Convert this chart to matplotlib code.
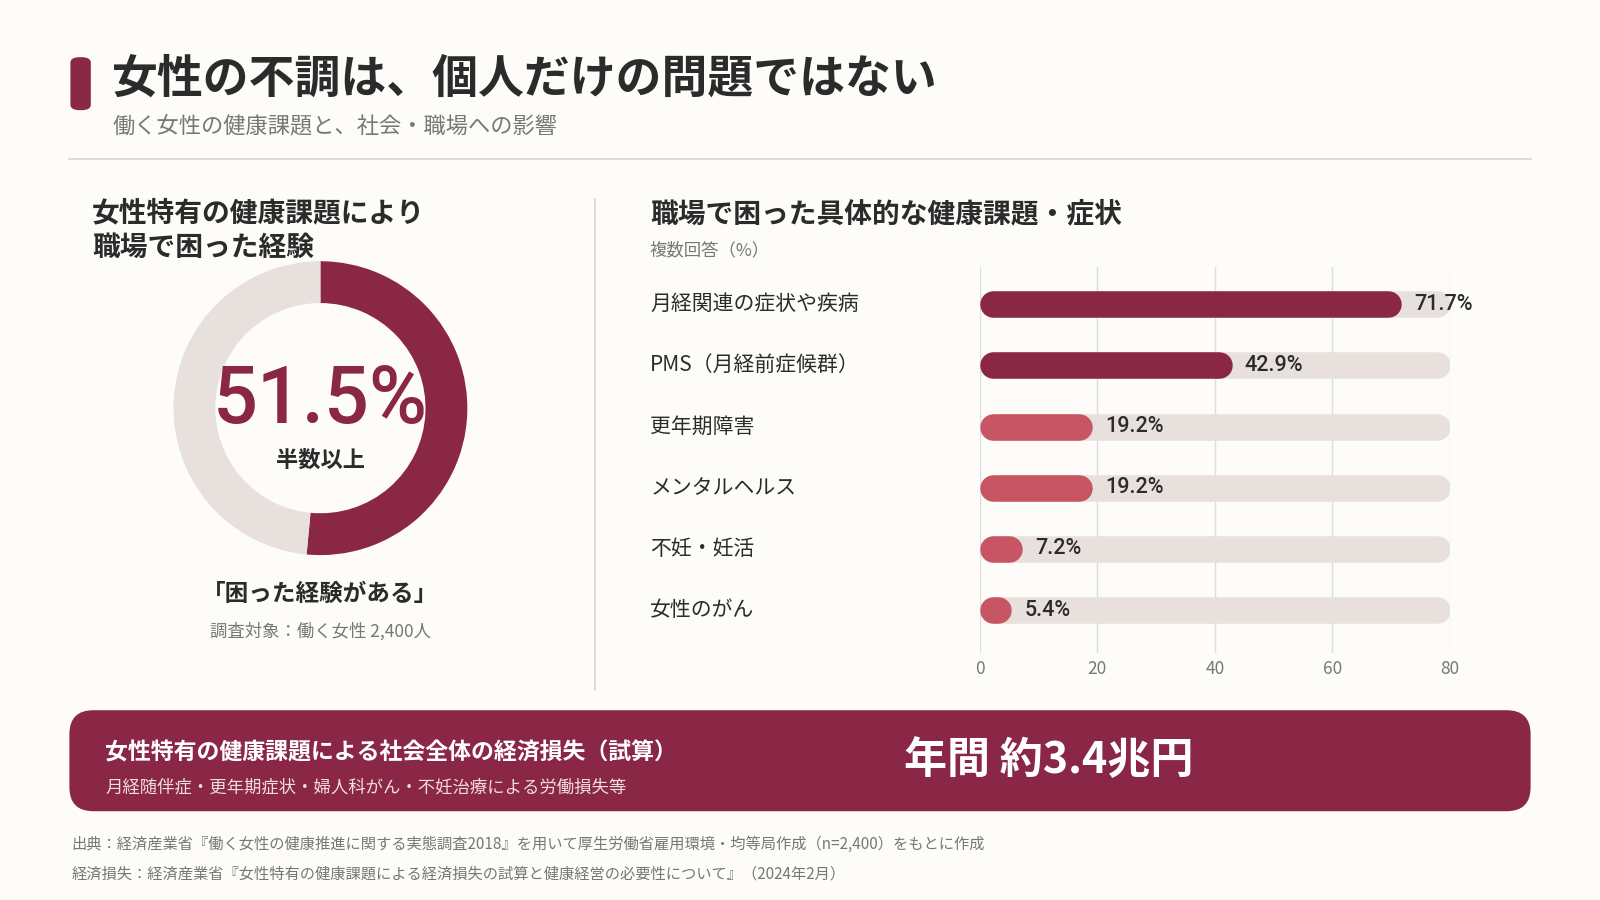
import matplotlib.pyplot as plt
from matplotlib.patches import FancyBboxPatch, Wedge

plt.rcParams['font.family'] = ['Noto Sans CJK JP', 'DejaVu Sans']

W, H = 1568, 882
BG = '#FDFCF8'
DARK = '#8B2746'
LIGHT = '#C85564'
TRACK = '#E8E0DC'
TXT = '#2B2B2B'
GREY = '#777777'

donut_value = 51.5
categories = ['月経関連の症状や疾病', 'PMS（月経前症候群）', '更年期障害', 'メンタルヘルス', '不妊・妊活', '女性のがん']
values = [71.7, 42.9, 19.2, 19.2, 7.2, 5.4]
bar_colors = [DARK, DARK, LIGHT, LIGHT, LIGHT, LIGHT]
xticks = [0, 20, 40, 60, 80]

fig = plt.figure(figsize=(16, 9), dpi=100, facecolor=BG)


def fx(x):
    return x / W


def fy(y):
    return 1 - y / H


def txt(x, y, s, **kw):
    fig.text(fx(x), fy(y), s, **kw)


# header
fig.patches.append(FancyBboxPatch((fx(69), fy(108)), fx(20), fy(56) - fy(108),
                                  boxstyle='round,pad=0,rounding_size=0.006',
                                  transform=fig.transFigure, fc=DARK, ec='none'))
txt(110, 78, '女性の不調は、個人だけの問題ではない', fontsize=33, weight='bold', color=TXT, va='center')
txt(110, 123, '働く女性の健康課題と、社会・職場への影響', fontsize=16, color=GREY, va='center')
fig.add_artist(plt.Line2D([fx(68), fx(1500)], [fy(156), fy(156)], color='#D8D4CE', lw=1.2))
fig.add_artist(plt.Line2D([fx(583), fx(583)], [fy(195), fy(676)], color='#D8D4CE', lw=1.2))

# donut
txt(90, 226, '女性特有の健康課題により\n職場で困った経験', fontsize=20, weight='bold', color=TXT, va='center', linespacing=1.3)
cx, cy, r = 314, 400, 150
axd = fig.add_axes([fx(cx - r), fy(cy + r), fx(2 * r), fy(cy - r) - fy(cy + r)])
axd.set_xlim(-1, 1)
axd.set_ylim(-1, 1)
axd.set_aspect('equal')
axd.axis('off')
ro, ri = 144 / r, 103 / r
ang = 360 * donut_value / 100
axd.add_patch(Wedge((0, 0), ro, 90 - ang, 90, width=ro - ri, fc=DARK, ec='none'))
axd.add_patch(Wedge((0, 0), ro, 90, 90 - ang + 360, width=ro - ri, fc=TRACK, ec='none'))
txt(314, 393, f'{donut_value}%', fontsize=57, color=DARK, ha='center', va='center',
    family=['Roboto', 'DejaVu Sans'], weight='medium')
txt(314, 451, '半数以上', fontsize=16, weight='bold', color=TXT, ha='center', va='center')
txt(314, 582, '「困った経験がある」', fontsize=17, weight='bold', color=TXT, ha='center', va='center')
txt(314, 619, '調査対象：働く女性 2,400人', fontsize=12.5, color=GREY, ha='center', va='center')

# bars
txt(637, 210, '職場で困った具体的な健康課題・症状', fontsize=20, weight='bold', color=TXT, va='center')
txt(637, 245, '複数回答（%）', fontsize=12.5, color=GREY, va='center')
ax = fig.add_axes([fx(960), fy(640), fx(1421) - fx(960), fy(262) - fy(640)])
ax.set_facecolor('none')
ax.set_xlim(0, 80)
n = len(categories)
ax.set_ylim(-0.6 + 378 / 60, -0.6)
for s in ax.spines.values():
    s.set_visible(False)
ax.set_xticks(xticks)
ax.tick_params(length=0, labelsize=12.5, labelcolor=GREY, pad=5)
ax.set_yticks([])
ax.grid(axis='x', color='#DDDDDD', lw=1)
ax.set_axisbelow(True)
cap = 13 / (461 / 80)
lw = 26 * 72 / 100 * 1600 / W
for i, (c, v, col) in enumerate(zip(categories, values, bar_colors)):
    ax.plot([cap, 80 - cap], [i, i], color=TRACK, lw=lw, solid_capstyle='round', zorder=2)
    ax.plot([cap, max(v - cap, cap)], [i, i], color=col, lw=lw, solid_capstyle='round', zorder=3)
    ax.text(v + 2.2, i, f'{v}%', fontsize=15.5, color=TXT, va='center', zorder=4,
            family=['Roboto', 'DejaVu Sans'], weight='medium')
    ax.text(-56, i, c, fontsize=15, color=TXT, va='center', clip_on=False)

# banner
fig.patches.append(FancyBboxPatch((fx(68), fy(795)), fx(1500) - fx(68), fy(696) - fy(795),
                                  boxstyle='round,pad=0,rounding_size=0.015',
                                  transform=fig.transFigure, fc=DARK, ec='none',
                                  mutation_aspect=16 / 9))
txt(103, 738, '女性特有の健康課題による社会全体の経済損失（試算）', fontsize=16.5, weight='bold', color='white', va='center')
txt(103, 772, '月経随伴症・更年期症状・婦人科がん・不妊治療による労働損失等', fontsize=12.5, color='#F0DDE2', va='center')
txt(1028, 745, '年間 約3.4兆円', fontsize=31, weight='bold', color='white', ha='center', va='center')

txt(70, 828, '出典：経済産業省『働く女性の健康推進に関する実態調査2018』を用いて厚生労働省雇用環境・均等局作成（n=2,400）をもとに作成', fontsize=11, color=GREY, va='center')
txt(70, 857, '経済損失：経済産業省『女性特有の健康課題による経済損失の試算と健康経営の必要性について』（2024年2月）', fontsize=11, color=GREY, va='center')

fig.savefig('out.png', dpi=100, facecolor=BG)
